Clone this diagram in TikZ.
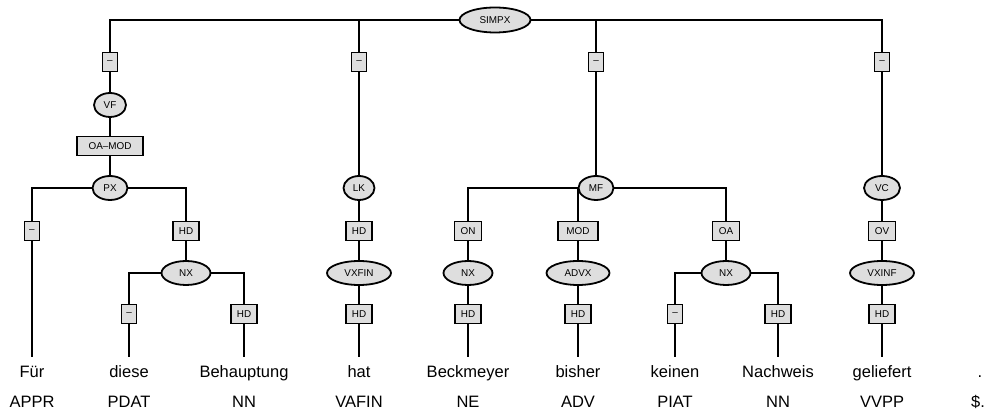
\documentclass[tikz,border=0pt]{standalone}
\usepackage{fontspec}
\setmainfont{Liberation Sans}
\usetikzlibrary{shapes.geometric, backgrounds}

\definecolor{boxgray}{gray}{0.87}

\tikzset{
	cat/.style = {ellipse, draw, fill = boxgray, line width = 0.9pt, inner sep = 0pt, minimum height = 12pt, minimum width = #1, font = \fontsize{4.95pt}{6pt}\selectfont},
	func/.style = {rectangle, draw, fill = boxgray, line width = 0.9pt, inner sep = 0pt, minimum height = 9.5pt, minimum width = #1, font = \fontsize{4.95pt}{6pt}\selectfont},
	word/.style = {anchor = base, inner xsep = 0pt, inner ysep = 4.5pt, text height = 6pt, text depth = 1.5pt, font = \fontsize{8.25pt}{10pt}\selectfont},
	tag/.style = {anchor = base, inner sep = 0pt, font = \fontsize{8.25pt}{10pt}\selectfont},
	branch/.style = {line width = 0.9pt}
}

\begin{document}
\begin{tikzpicture}[x = 0.5pt, y = -0.5pt]
	\useasboundingbox (0, 0) rectangle (984, 410);

	% root
	\node[cat = 35.5pt, minimum height = 12.5pt] (simpx) at (495, 20) {SIMPX};

	% Vorfeld
	\node[func = 7.5pt] (e1) at (110, 62) {--};
	\node[cat = 16pt] (vf) at (110, 105) {VF};
	\node[func = 33pt] (oamod) at (110, 146) {OA--MOD};
	\node[cat = 17.5pt] (px) at (110, 188) {PX};
	\node[func = 7.5pt] (e11) at (32, 231) {--};
	\node[func = 13pt] (e12) at (186, 231) {HD};
	\node[cat = 24.5pt] (nx1) at (186, 273) {NX};
	\node[func = 7.5pt] (e121) at (129, 314) {--};
	\node[func = 13pt] (e122) at (244, 314) {HD};

	% linke Klammer
	\node[func = 7.5pt] (e2) at (359, 62) {--};
	\node[cat = 15.5pt] (lk) at (359, 188) {LK};
	\node[func = 13pt] (e21) at (359, 231) {HD};
	\node[cat = 32pt] (vxfin) at (359, 273) {VXFIN};
	\node[func = 13pt] (e211) at (359, 314) {HD};

	% Mittelfeld
	\node[func = 7.5pt] (e3) at (596, 62) {--};
	\node[cat = 17.5pt] (mf) at (596, 188) {MF};
	\node[func = 13.5pt] (e31) at (468, 231) {ON};
	\node[cat = 24.5pt] (nx2) at (468, 273) {NX};
	\node[func = 13pt] (e311) at (468, 314) {HD};
	\node[func = 20pt] (e32) at (578, 231) {MOD};
	\node[cat = 31.5pt] (advx) at (578, 273) {ADVX};
	\node[func = 13pt] (e321) at (578, 314) {HD};
	\node[func = 13.5pt] (e33) at (726, 231) {OA};
	\node[cat = 24.5pt] (nx3) at (726, 273) {NX};
	\node[func = 7.5pt] (e331) at (675, 314) {--};
	\node[func = 13pt] (e332) at (778, 314) {HD};

	% Verbalkomplex
	\node[func = 7.5pt] (e4) at (882, 62) {--};
	\node[cat = 18pt] (vc) at (882, 188) {VC};
	\node[func = 13.5pt] (e41) at (882, 231) {OV};
	\node[cat = 32pt] (vxinf) at (882, 273) {VXINF};
	\node[func = 13pt] (e411) at (882, 314) {HD};

	% words
	\node[word] (w1) at (32, 378) {Für};
	\node[word] (w2) at (129, 378) {diese};
	\node[word] (w3) at (244, 378) {Behauptung};
	\node[word] (w4) at (359, 378) {hat};
	\node[word] (w5) at (468, 378) {Beckmeyer};
	\node[word] (w6) at (578, 378) {bisher};
	\node[word] (w7) at (675, 378) {keinen};
	\node[word] (w8) at (778, 378) {Nachweis};
	\node[word] (w9) at (882, 378) {geliefert};
	\node[word] (w10) at (980, 378) {.};

	% tags
	\node[tag] (t1) at (32, 408) {APPR};
	\node[tag] (t2) at (129, 408) {PDAT};
	\node[tag] (t3) at (244, 408) {NN};
	\node[tag] (t4) at (359, 408) {VAFIN};
	\node[tag] (t5) at (468, 408) {NE};
	\node[tag] (t6) at (578, 408) {ADV};
	\node[tag] (t7) at (675, 408) {PIAT};
	\node[tag] (t8) at (778, 408) {NN};
	\node[tag] (t9) at (882, 408) {VVPP};
	\node[tag] (t10) at (978, 408) {\$.};

	\begin{pgfonlayer}{background}
		\draw[branch] (simpx.center) -| (e1.center);
		\draw[branch] (simpx.center) -| (e2.center);
		\draw[branch] (simpx.center) -| (e3.center);
		\draw[branch] (simpx.center) -| (e4.center);

		\draw[branch] (e1.center) -- (vf.center) -- (oamod.center) -- (px.center);
		\draw[branch] (px.center) -| (e11.center) -- (w1.north);
		\draw[branch] (px.center) -| (e12.center) -- (nx1.center);
		\draw[branch] (nx1.center) -| (e121.center) -- (w2.north);
		\draw[branch] (nx1.center) -| (e122.center) -- (w3.north);

		\draw[branch] (e2.center) -- (lk.center) -- (e21.center) -- (vxfin.center) -- (e211.center) -- (w4.north);

		\draw[branch] (e3.center) -- (mf.center);
		\draw[branch] (mf.center) -| (e31.center) -- (nx2.center) -- (e311.center) -- (w5.north);
		\draw[branch] (e32.center |- mf.center) -- (e32.center) -- (advx.center) -- (e321.center) -- (w6.north);
		\draw[branch] (mf.center) -| (e33.center) -- (nx3.center);
		\draw[branch] (nx3.center) -| (e331.center) -- (w7.north);
		\draw[branch] (nx3.center) -| (e332.center) -- (w8.north);

		\draw[branch] (e4.center) -- (vc.center) -- (e41.center) -- (vxinf.center) -- (e411.center) -- (w9.north);
	\end{pgfonlayer}
\end{tikzpicture}
\end{document}
